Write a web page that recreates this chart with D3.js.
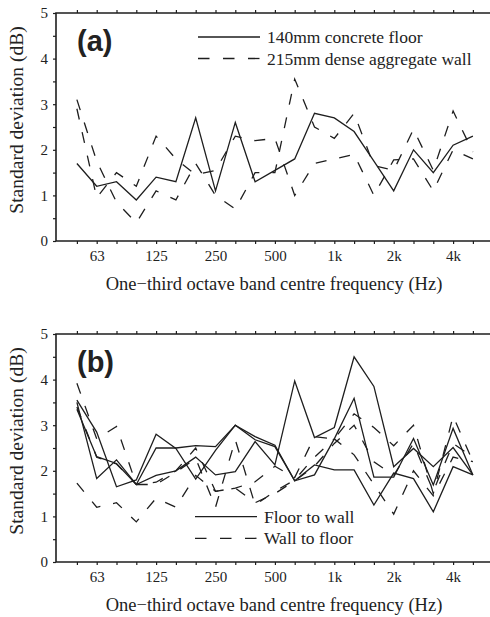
<!DOCTYPE html>
<html>
<head>
<meta charset="utf-8">
<script src="https://cdn.jsdelivr.net/npm/d3@7"></script>
<style>
  body { margin: 0; background: #fff; }
  svg text { fill: #222; }
</style>
</head>
<body>
<svg id="chart" width="490" height="617"></svg>
<script>
// one-third octave bands
var bands = ["50","63","80","100","125","160","200","250","315","400","500","630","800","1k","1.25k","1.6k","2k","2.5k","3.15k","4k","5k"];
var bandLabels = ["63","125","250","500","1k","2k","4k"];
var yTicks = [0,0.5,1,1.5,2,2.5,3,3.5,4,4.5,5];

// panel (a)
var floor140 = [1.7,1.2,1.3,0.9,1.4,1.3,2.7,1.1,2.6,1.3,1.55,1.8,2.8,2.7,2.4,1.75,1.1,2.0,1.5,2.1,2.3];
var wall215a = [3.1,1.75,0.85,0.4,1.1,0.9,1.7,1.0,0.7,1.5,1.5,3.55,2.5,2.25,2.8,1.65,1.55,2.45,1.55,2.85,1.95];
var wall215b = [2.9,0.95,1.5,1.2,2.3,1.8,1.45,1.55,2.3,2.2,2.25,1.0,1.7,1.8,1.9,1.0,1.78,1.8,1.1,2.0,1.8];

// panel (b)
var floorWallA = [3.35,2.31,2.16,1.7,2.5,2.5,2.55,2.53,3.0,2.75,2.56,1.78,1.91,2.7,3.59,1.86,1.86,2.71,1.69,2.93,1.91];
var floorWallB = [3.5,1.83,2.24,1.7,1.9,2.0,2.3,1.91,1.98,2.64,2.13,3.97,2.73,2.95,4.5,3.85,2.09,2.49,2.09,2.51,1.91];
var floorWallC = [3.55,2.85,1.65,1.8,2.8,2.49,1.82,2.45,3.0,2.68,2.53,1.78,2.13,2.02,2.02,1.25,1.95,1.83,1.1,2.09,1.91];
var wallFloorA = [3.92,2.7,2.97,1.7,1.7,1.97,2.27,1.2,2.68,1.25,1.55,1.8,2.3,2.7,2.35,1.7,1.05,2.0,1.45,2.3,2.2];
var wallFloorB = [3.4,2.3,2.15,1.7,1.75,2.0,2.5,1.55,1.62,1.76,2.1,1.85,2.75,2.7,3.25,2.95,2.55,3.0,1.5,3.2,2.2];
var wallFloorC = [1.73,1.2,1.3,0.88,1.4,1.2,1.9,1.55,1.62,1.3,1.5,1.78,2.1,2.6,3.0,2.2,1.9,2.6,1.55,2.6,2.3];

var svg = d3.select("#chart");
var ink = "#1e1e1e";
var serif = "'Liberation Serif', 'Times New Roman', serif";
var DASH = "11,13";

var left = 56, right = 494, plotH = 228;
var x = d3.scalePoint().domain(bands).range([76.9, 472.9]);

function drawPanel(top, tag, series, legend){
    var bottom = top + plotH;
    var y = d3.scaleLinear().domain([0, 5]).range([bottom, top]);
    var g = svg.append("g");

    var line = d3.line()
        .x(function(d, i){ return x(bands[i]); })
        .y(function(d){ return y(d); });

    series.forEach(function(s){
        g.append("path")
        .datum(s.values)
        .attr("d", line)
        .attr("fill", "none")
        .attr("stroke", ink)
        .attr("stroke-width", 1.3)
        .attr("stroke-linejoin", "miter")
        .attr("stroke-dasharray", s.dashed ? DASH : null);
    });

    // ticks
    var xb = g.append("g").attr("transform", "translate(0," + bottom + ")")
        .call(d3.axisBottom(x).tickSize(3).tickPadding(6)
            .tickFormat(function(d){ return bandLabels.indexOf(d) >= 0 ? d : ""; }));
    var xt = g.append("g").attr("transform", "translate(0," + top + ")")
        .call(d3.axisTop(x).tickSize(3).tickFormat(""));
    var yl = g.append("g").attr("transform", "translate(" + left + ",0)")
        .call(d3.axisLeft(y).tickValues(yTicks).tickSize(3).tickPadding(5)
            .tickFormat(function(d){ return d % 1 === 0 ? d : ""; }));
    [xb, xt, yl].forEach(function(a){
        a.select(".domain").remove();
        a.selectAll("line").attr("stroke", ink).attr("stroke-width", 1.2);
        a.selectAll("text").style("font-family", serif).style("font-size", "15px").attr("fill", "#222");
    });

    // frame (left, top, bottom)
    g.append("path")
    .attr("d", "M" + right + "," + top + "H" + left + "V" + bottom + "H" + right)
    .attr("fill", "none")
    .attr("stroke", ink)
    .attr("stroke-width", 1.6);

    // axis titles
    g.append("text")
    .attr("x", 274)
    .attr("y", bottom + 49)
    .attr("text-anchor", "middle")
    .style("font-family", serif)
    .style("font-size", "18.5px")
    .text("One\u2212third octave band centre frequency (Hz)");

    g.append("text")
    .attr("transform", "translate(23," + (top + 107) + ") rotate(-90)")
    .attr("text-anchor", "middle")
    .style("font-family", serif)
    .style("font-size", "19.5px")
    .text("Standard deviation (dB)");

    // panel tag
    g.append("text")
    .attr("x", 77)
    .attr("y", top + 38)
    .style("font-family", "'Liberation Sans', Arial, sans-serif")
    .style("font-weight", "bold")
    .style("font-size", "29px")
    .text(tag);

    // legend
    legend.items.forEach(function(it, i){
        var ly = legend.y + i * legend.gap;
        g.append("line")
        .attr("x1", legend.x).attr("x2", legend.x + 62)
        .attr("y1", ly).attr("y2", ly)
        .attr("stroke", ink)
        .attr("stroke-width", 1.3)
        .attr("stroke-dasharray", it.dashed ? "11.5,13.5" : null);
        g.append("text")
        .attr("x", legend.x + 69)
        .attr("y", ly + 6)
        .style("font-family", serif)
        .style("font-size", "17.5px")
        .text(it.label);
    });
}

drawPanel(13, "(a)", [
    {values: floor140, dashed: false},
    {values: wall215a, dashed: true},
    {values: wall215b, dashed: true}
], {x: 198, y: 37, gap: 21.5, items: [
    {label: "140mm concrete floor", dashed: false},
    {label: "215mm dense aggregate wall", dashed: true}
]});

drawPanel(334, "(b)", [
    {values: floorWallA, dashed: false},
    {values: floorWallB, dashed: false},
    {values: floorWallC, dashed: false},
    {values: wallFloorA, dashed: true},
    {values: wallFloorB, dashed: true},
    {values: wallFloorC, dashed: true}
], {x: 195, y: 516.7, gap: 21.6, items: [
    {label: "Floor to wall", dashed: false},
    {label: "Wall to floor", dashed: true}
]});
</script>
</body>
</html>
